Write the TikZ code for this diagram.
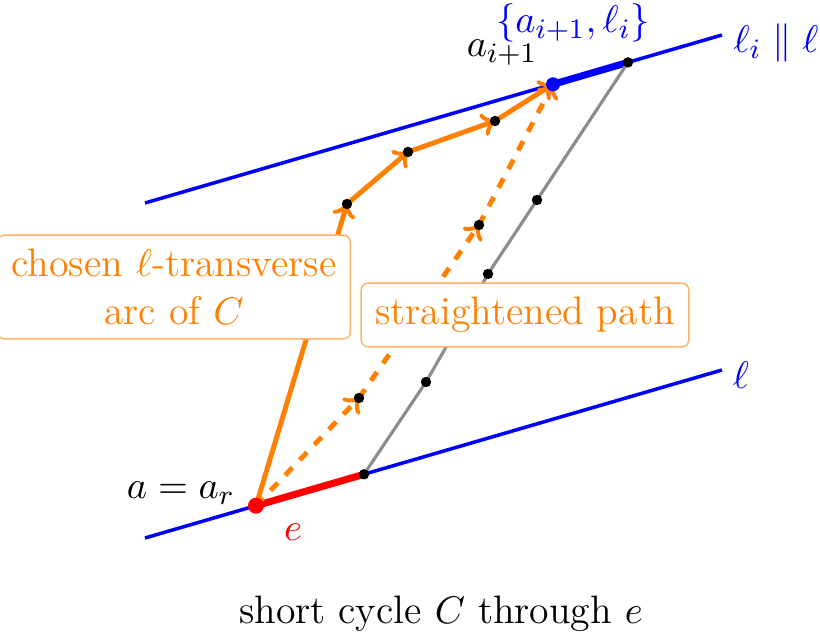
\documentclass[tikz,border=0pt]{standalone}
\usetikzlibrary{calc}
\newcommand{\bintik}[1]{\foreach \p in {#1} \fill (\p) circle (0.052);}
\newcommand{\hurufku}{\fontsize{11.3}{13.6}\selectfont}
\tikzset{
  garis/.style={blue,line width=1pt},
  busur/.style={orange,line width=1.4pt,->},
  lurus/.style={orange,line width=1.4pt,dashed,->},
  kotak/.style={draw=orange!60,fill=white,text=orange,rounded corners=2pt,
    align=center,inner sep=4pt,font=\hurufku},
}

\begin{document}
\begin{tikzpicture}[font=\hurufku]
  \useasboundingbox (0,0) rectangle (8.2,6.35);
  % garis l dan l_i
  \coordinate (L1) at (1.45,0.97);
  \coordinate (L2) at (7.22,2.65);
  \coordinate (M1) at (1.45,4.32);
  \coordinate (M2) at (7.22,6.00);

  \coordinate (A) at (2.56,1.293);
  \coordinate (E) at (3.64,1.607);
  \coordinate (B) at (5.53,5.507);
  \coordinate (T) at (6.28,5.726);

  \coordinate (P1) at (3.47,4.31);
  \coordinate (P2) at (4.08,4.83);
  \coordinate (P3) at (4.95,5.14);

  \coordinate (Q1) at (3.59,2.37);
  \coordinate (Q2) at (4.79,4.10);

  \coordinate (G1) at (4.26,2.53);
  \coordinate (G2) at (4.88,3.61);
  \coordinate (G3) at (5.37,4.35);

  \draw[garis] (L1) -- (L2);
  \draw[garis] (M1) -- (M2);
  \draw[blue,line width=2pt] (B) -- (T);
  \draw[red,line width=2pt] (A) -- (E);

  \draw[gray!90,line width=0.9pt] (E) -- (G1) -- (G2) -- (G3) -- (T);

  \draw[lurus] (A) -- (Q1);
  \draw[lurus] (Q1) -- (Q2);
  \draw[lurus] (Q2) -- (B);

  \draw[busur] (A) -- (P1);
  \draw[busur] (P1) -- (P2);
  \draw[busur] (P2) -- (P3);
  \draw[busur] (P3) -- (B);

  \node[kotak,minimum width=3.44cm,minimum height=0.98cm] (arc) at (1.74,3.48) {chosen $\ell$-transverse\\arc of $C$};
  \node[kotak,minimum width=3.21cm,minimum height=0.56cm] (lur) at (5.25,3.20) {straightened path};

  \bintik{E,T,P1,P2,P3,Q1,Q2,G1,G2,G3}
  \fill[red] (A) circle (0.08);
  \fill[blue] (B) circle (0.07);

  \node[blue] (li) at (7.76,5.92) {$\ell_i \parallel \ell$};
  \node[blue] (l) at (7.41,2.60) {$\ell$};
  \node[blue] (set) at (5.73,6.12) {$\{a_{i+1},\ell_i\}$};
  \node (ai) at (5.02,5.82) {$a_{i+1}$};
  \node (ar) at (1.81,1.42) {$a=a_r$};
  \node[red] (e) at (2.93,1.03) {$e$};
  \node (cap) at (4.41,0.21) {short cycle $C$ through $e$};
\end{tikzpicture}
\end{document}
